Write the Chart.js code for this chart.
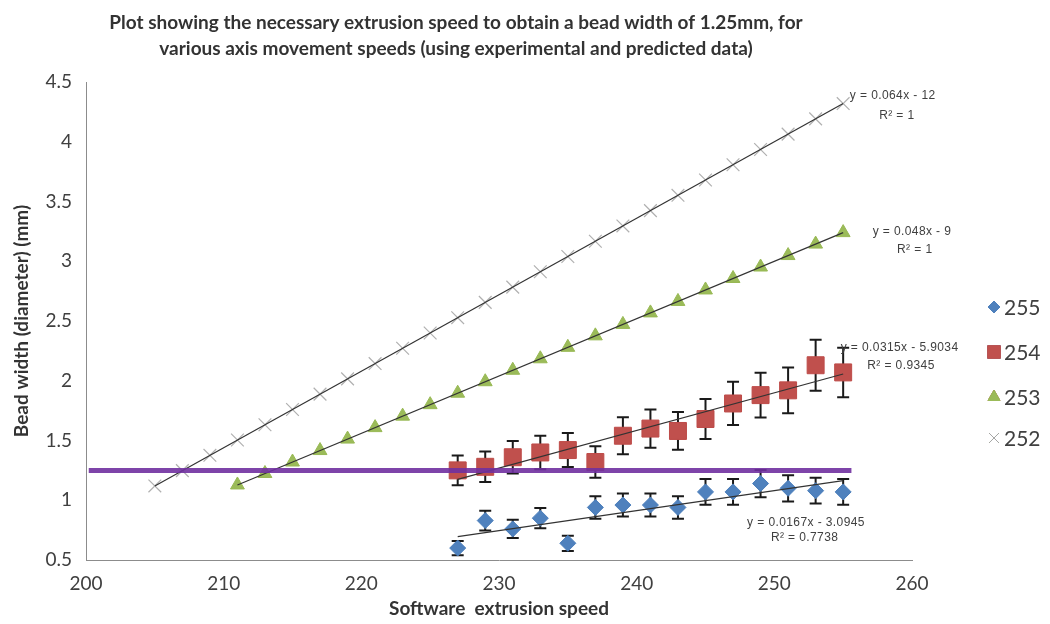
<!DOCTYPE html>
<html>
<head>
<meta charset="utf-8">
<script src="https://cdn.jsdelivr.net/npm/chart.js@4/dist/chart.umd.min.js"></script>
<style>
  body { margin: 0; background: #fff; }
</style>
</head>
<body>
<canvas id="beadChart" width="1050" height="624"></canvas>
<script>
// Series 252 (predicted, crosses)
var x252 = [205, 207, 209, 211, 213, 215, 217, 219, 221, 223, 225, 227, 229,
            231, 233, 235, 237, 239, 241, 243, 245, 247, 249, 251, 253, 255];
var y252 = [1.12, 1.248, 1.376, 1.504, 1.632, 1.76, 1.888, 2.016, 2.144, 2.272, 2.4, 2.528, 2.656,
            2.784, 2.912, 3.04, 3.168, 3.296, 3.424, 3.552, 3.68, 3.808, 3.936, 4.064, 4.192, 4.32];

// Series 253 (predicted, triangles)
var x253 = [211, 213, 215, 217, 219, 221, 223, 225, 227, 229, 231, 233,
            235, 237, 239, 241, 243, 245, 247, 249, 251, 253, 255];
var y253 = [1.128, 1.224, 1.32, 1.416, 1.512, 1.608, 1.704, 1.8, 1.896, 1.992, 2.088, 2.184,
            2.28, 2.376, 2.472, 2.568, 2.664, 2.76, 2.856, 2.952, 3.048, 3.144, 3.24];

// Series 254 (experimental, squares with error bars)
var x254 = [227, 229, 231, 233, 235, 237, 239, 241, 243, 245, 247, 249, 251, 253, 255];
var y254 = [1.25, 1.28, 1.36, 1.40, 1.42, 1.32, 1.54, 1.60, 1.58, 1.68, 1.81, 1.88, 1.92, 2.13, 2.07];
var err254 = [0.125, 0.128, 0.136, 0.14, 0.142, 0.132, 0.154, 0.16, 0.158, 0.168, 0.181, 0.188, 0.192, 0.213, 0.207];

// Series 255 (experimental, diamonds with error bars)
var x255 = [227, 229, 231, 233, 235, 237, 239, 241, 243, 245, 247, 249, 251, 253, 255];
var y255 = [0.60, 0.83, 0.76, 0.85, 0.64, 0.94, 0.96, 0.96, 0.94, 1.07, 1.07, 1.14, 1.10, 1.08, 1.07];
var err255 = [0.06, 0.083, 0.076, 0.085, 0.064, 0.094, 0.096, 0.096, 0.094, 0.107, 0.107, 0.114, 0.11, 0.108, 0.107];

// Trendline end points
var trend252 = {x: [205, 255], y: [1.12, 4.32]};
var trend253 = {x: [211, 255], y: [1.128, 3.24]};
var trend254 = {x: [227, 255], y: [1.175, 2.057]};
var trend255 = {x: [227, 255], y: [0.696, 1.164]};

// Target bead width 1.25mm
var targetX = [200.2, 255.6];
var targetY = [1.25, 1.25];

var xTicks = [200, 210, 220, 230, 240, 250, 260];
var yTicks = [0.5, 1, 1.5, 2, 2.5, 3, 3.5, 4, 4.5];

var seriesNames = ['255', '254', '253', '252'];

function pts(xs, ys) {
    var out = [];
    for (var i = 0; i < xs.length; i++) out.push({x: xs[i], y: ys[i]});
    return out;
}

var FONT = 'Lato, "Open Sans", sans-serif';
var TEXT = '#404040';

var errorBars = [
    {xs: x254, ys: y254, err: err254},
    {xs: x255, ys: y255, err: err255}
];

// equation labels (anchored in data units near the end of each trendline)
var eqLabels = [
    {text: 'y = 0.064x - 12', x: 258.6, y: 4.39},
    {text: 'R² = 1', x: 258.9, y: 4.22},
    {text: 'y = 0.048x - 9', x: 260.0, y: 3.25},
    {text: 'R² = 1', x: 260.2, y: 3.10},
    {text: 'y = 0.0315x - 5.9034', x: 259.1, y: 2.28},
    {text: 'R² = 0.9345', x: 259.2, y: 2.13},
    {text: 'y = 0.0167x - 3.0945', x: 252.3, y: 0.81},
    {text: 'R² = 0.7738', x: 252.2, y: 0.69}
];

var legendItems = [
    {style: 'rectRot', r: 6, color: '#4F81BD', y: 307},
    {style: 'rect', r: 9, color: '#C0504D', y: 352},
    {style: 'triangle', r: 7, color: '#9BBB59', y: 397},
    {style: 'crossRot', r: 7, color: '#A6A6A6', y: 438}
];

var extrasPlugin = {
    id: 'extras',
    beforeDatasetsDraw: function(chart) {
        var ctx = chart.ctx, xs = chart.scales.x, ys = chart.scales.y;
        ctx.save();
        ctx.strokeStyle = '#1a1a1a';
        ctx.lineWidth = 2;
        errorBars.forEach(function(s) {
            for (var i = 0; i < s.xs.length; i++) {
                var px = xs.getPixelForValue(s.xs[i]);
                var top = ys.getPixelForValue(s.ys[i] + s.err[i]);
                var bot = ys.getPixelForValue(s.ys[i] - s.err[i]);
                ctx.beginPath();
                ctx.moveTo(px, top); ctx.lineTo(px, bot);
                ctx.moveTo(px - 6, top); ctx.lineTo(px + 6, top);
                ctx.moveTo(px - 6, bot); ctx.lineTo(px + 6, bot);
                ctx.stroke();
            }
        });
        ctx.restore();
    },
    afterDraw: function(chart) {
        var ctx = chart.ctx, xs = chart.scales.x, ys = chart.scales.y;
        ctx.save();
        ctx.fillStyle = TEXT;
        ctx.font = '12px "Liberation Sans", sans-serif';
        if ('letterSpacing' in ctx) ctx.letterSpacing = '0.4px';
        ctx.textAlign = 'center';
        ctx.textBaseline = 'middle';
        eqLabels.forEach(function(l) {
            ctx.fillText(l.text, xs.getPixelForValue(l.x), ys.getPixelForValue(l.y));
        });
        if ('letterSpacing' in ctx) ctx.letterSpacing = '0px';

        // legend
        ctx.font = '21px ' + FONT;
        ctx.textAlign = 'left';
        legendItems.forEach(function(it, i) {
            Chart.helpers.drawPoint(ctx, {
                pointStyle: it.style, radius: it.r, rotation: 0, borderWidth: 1
            }, 994, it.y);
            ctx.fillStyle = it.color;
            ctx.strokeStyle = it.color;
            ctx.fill();
            ctx.stroke();
            ctx.fillStyle = TEXT;
            ctx.fillText(seriesNames[i], 1004, it.y + 1);
        });
        ctx.restore();
    }
};

var ctx = document.getElementById('beadChart').getContext('2d');
var chart = new Chart(ctx, {
    type: 'scatter',
    data: {
        datasets: [
            {label: 'target', data: pts(targetX, targetY), showLine: true, pointRadius: 0,
             borderColor: 'rgba(112,48,160,0.9)', borderWidth: 5, order: 0},
            {label: 'trend255', data: pts(trend255.x, trend255.y), showLine: true, pointRadius: 0,
             borderColor: '#333', borderWidth: 1.2, order: 1},
            {label: 'trend254', data: pts(trend254.x, trend254.y), showLine: true, pointRadius: 0,
             borderColor: '#333', borderWidth: 1.2, order: 1},
            {label: 'trend253', data: pts(trend253.x, trend253.y), showLine: true, pointRadius: 0,
             borderColor: '#333', borderWidth: 1.2, order: 1},
            {label: 'trend252', data: pts(trend252.x, trend252.y), showLine: true, pointRadius: 0,
             borderColor: '#333', borderWidth: 1.2, order: 1},
            {label: seriesNames[0], data: pts(x255, y255), pointStyle: 'rectRot', pointRadius: 8,
             backgroundColor: '#4F81BD', borderColor: '#4A7EBB', borderWidth: 1, order: 2},
            {label: seriesNames[1], data: pts(x254, y254), pointStyle: 'rect', pointRadius: 12,
             backgroundColor: '#C0504D', borderColor: '#BE4B48', borderWidth: 1, order: 2},
            {label: seriesNames[2], data: pts(x253, y253), pointStyle: 'triangle', pointRadius: 8,
             backgroundColor: '#9BBB59', borderColor: '#98B954', borderWidth: 1, order: 2},
            {label: seriesNames[3], data: pts(x252, y252), pointStyle: 'crossRot', pointRadius: 9,
             backgroundColor: '#A6A6A6', borderColor: '#B0B0B0', borderWidth: 1.2, order: 2}
        ]
    },
    options: {
        responsive: false,
        animation: false,
        layout: {padding: {left: 0, right: 138, top: 0, bottom: 0}},
        plugins: {
            legend: {display: false},
            tooltip: {enabled: false},
            title: {
                display: true,
                text: ['Plot showing the necessary extrusion speed to obtain a bead width of 1.25mm, for',
                       'various axis movement speeds (using experimental and predicted data)'],
                color: '#333',
                font: {family: FONT, size: 19, weight: 'bold', lineHeight: 1.37},
                padding: {top: 10, bottom: 20}
            }
        },
        scales: {
            x: {
                type: 'linear', min: 200, max: 260,
                afterBuildTicks: function(s) { s.ticks = xTicks.map(function(v) { return {value: v}; }); },
                afterFit: function(s) { s.height = 64; },
                grid: {display: false},
                border: {color: '#8c8c8c', width: 1},
                ticks: {color: TEXT, font: {family: FONT, size: 19}, padding: 4,
                        callback: function(v) { return String(v); }},
                title: {display: true, text: 'Software  extrusion speed', color: '#333',
                        font: {family: FONT, size: 19, weight: 'bold'}, padding: {top: 2}}
            },
            y: {
                type: 'linear', min: 0.5, max: 4.5,
                afterBuildTicks: function(s) { s.ticks = yTicks.map(function(v) { return {value: v}; }); },
                afterFit: function(s) { s.width = 86; },
                grid: {display: false},
                border: {color: '#8c8c8c', width: 1},
                ticks: {color: TEXT, font: {family: FONT, size: 19}, padding: 6,
                        callback: function(v) { return String(v); }},
                title: {display: true, text: 'Bead width (diameter) (mm)', color: '#333',
                        font: {family: FONT, size: 19, weight: 'bold'}, padding: {top: 10, bottom: 4}}
            }
        }
    },
    plugins: [extrasPlugin]
});
</script>
</body>
</html>
